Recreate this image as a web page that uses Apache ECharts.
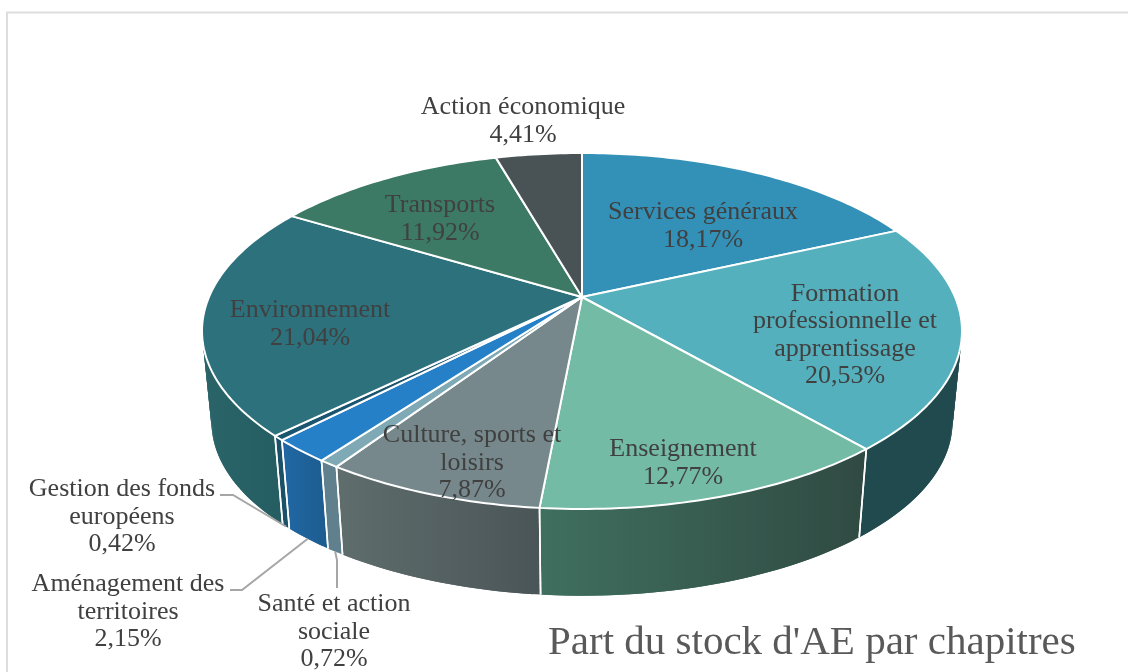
<!DOCTYPE html>
<html>
<head>
<meta charset="utf-8">
<style>html,body{margin:0;padding:0;background:#fff}#c{width:1128px;height:672px}</style>
<script src="https://cdn.jsdelivr.net/npm/echarts@6/dist/echarts.min.js"></script>
</head>
<body>
<div id="c"></div>
<script>
const chapterLabels = ["Services généraux","Formation\nprofessionnelle et\napprentissage","Enseignement","Culture, sports et\nloisirs","Santé et action\nsociale","Aménagement des\nterritoires","Gestion des fonds\neuropéens","Environnement","Transports","Action économique"];
const shares = [18.17,20.53,12.77,7.87,0.72,2.15,0.42,21.04,11.92,4.41];
const chartTitle = "Part du stock d'AE par chapitres";

// styles
const topColors = ["#3391B7","#55B0BD","#73BBA4","#76888B","#7EA9B5","#2580C8","#1B5670","#2D717C","#3C7A66","#495255"];
const sideColors = [["#1F5A70","#1F5A70"],["#214A4E","#214A4E"],["#3F6F5F","#304A42"],["#5F6D6C","#4A5557"],["#5F808C","#5F808C"],["#2068A5","#1D5C8E"],["#1A5068","#1A5068"],["#2A6469","#245C60"],["#2A5548","#2A5548"],["#333A3C","#333A3C"]];
// layout
const apex = {x:582,y:297}, proj = {X:373,Y:171.5,p:0.191}, base = {scale:0.975,dy:92};
const labelCentres = [[703,226],[845,335],[683,463],[472,463],[334,632],[128,612],[122,517],[310,324],[440,219],[523,121]];
const leaderStarts = {4:[[337,588],[337,560]],5:[[230,590],[242,590]],6:[[220,495],[233,495]]};

const total = shares.reduce((a,b)=>a+b,0);
const starts = []; shares.reduce((acc,v,i)=>{starts[i]=acc;return acc+v;},0);
function rim(frac,bottom){
  const t=frac*2*Math.PI,u=Math.sin(t),v=Math.cos(t),w=1+proj.p*v;
  const s=bottom?base.scale:1,d=bottom?base.dy:0;
  return [apex.x+s*proj.X*u/w, apex.y+d-s*proj.Y*v/w];
}
function arc(i,bottom){
  const a=starts[i]/total,b=(starts[i]+shares[i])/total,n=Math.max(2,Math.ceil((b-a)*360)),out=[];
  for(let k=0;k<=n;k++) out.push(rim(a+(b-a)*k/n,bottom));
  return out;
}
const rows = chapterLabels.map((n,i)=>({name:n,value:shares[i]}));
function fmt(v){return v.toFixed(2).replace('.',',')+'%';}

const chart = echarts.init(document.getElementById('c'),null,{renderer:'canvas'});
chart.setOption({
  animation:false,
  backgroundColor:'#fff',
  title:{text:chartTitle,left:543,top:618,textStyle:{fontFamily:'"Liberation Serif"',fontWeight:'normal',fontSize:41,color:'#595959'}},
  graphic:[{type:'polyline',silent:true,shape:{points:[[7,672],[7,12.5],[1128,12.5]]},style:{stroke:'#DDDDDD',lineWidth:2,fill:null}}],
  series:[
    {type:'custom',coordinateSystem:'none',data:rows,silent:true,z:1,
      renderItem(params){
        const i=params.dataIndex,t=arc(i,false),b=arc(i,true),kids=[];
        const xs=t.concat(b).map(p=>p[0]),x0=Math.min(...xs),x1=Math.max(...xs);
        const fill=new echarts.graphic.LinearGradient(x0,0,x1,0,[{offset:0,color:sideColors[i][0]},{offset:1,color:sideColors[i][1]}],true);
        const last=t.length-1;
        for(let k=0;k<last;k++){
          const m=Math.min(k+2,last);
          kids.push({type:'polygon',shape:{points:[t[k],t[m],b[m],b[k]]},style:{fill:fill}});
        }
        [0,last].forEach(k=>kids.push({type:'line',z2:5,shape:{x1:t[k][0],y1:t[k][1],x2:b[k][0],y2:b[k][1]},style:{stroke:'#fff',lineWidth:1.6}}));
        return {type:'group',children:kids};
      }},
    {type:'custom',coordinateSystem:'none',data:rows,silent:true,z:2,
      renderItem(params){
        const i=params.dataIndex;
        return {type:'polygon',shape:{points:[[apex.x,apex.y]].concat(arc(i,false))},
          style:{fill:topColors[i],stroke:'#fff',lineWidth:2,lineJoin:'round'}};
      }},
    {type:'custom',coordinateSystem:'none',data:rows,silent:true,z:3,
      renderItem(params,api){
        const i=params.dataIndex,c=labelCentres[i],kids=[];
        if(leaderStarts[i]){
          const end=rim((starts[i]+shares[i]/2)/total,true);
          kids.push({type:'polyline',shape:{points:leaderStarts[i].concat([end])},style:{stroke:'#A6A6A6',lineWidth:2,fill:null}});
        }
        kids.push({type:'text',style:{text:chapterLabels[i]+'\n'+fmt(shares[i]),x:c[0],y:c[1],align:'center',verticalAlign:'middle',
          fontFamily:'"Liberation Serif"',fontSize:26,lineHeight:27.5,fill:'#404040'}});
        return {type:'group',children:kids};
      }}
  ]
});
</script>
</body>
</html>
